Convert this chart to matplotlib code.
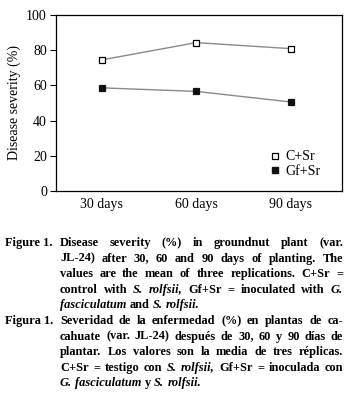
import matplotlib
matplotlib.use("Agg")
import matplotlib.pyplot as plt
from matplotlib.lines import Line2D

plt.rcParams['font.family'] = ['Liberation Serif', 'DejaVu Serif']

days = ["30 days", "60 days", "90 days"]
c_sr = [74.5, 84.3, 80.9]
gf_sr = [58.6, 56.6, 50.6]
series_names = ["C+Sr", "Gf+Sr"]
y_ticks = [0, 20, 40, 60, 80, 100]

# caption lines: list of (word, italic)
def w(s, it=False):
    return [(t, it) for t in s.split()]

cap_en = [
    w("Disease severity (%) in groundnut plant (var."),
    w("JL-24) after 30, 60 and 90 days of planting. The"),
    w("values are the mean of three replications. C+Sr ="),
    w("control with") + w("S. rolfsii,", True) + w("Gf+Sr = inoculated with") + w("G.", True),
    w("fasciculatum", True) + w("and") + w("S. rolfsii.", True),
]
cap_es = [
    w("Severidad de la enfermedad (%) en plantas de ca-"),
    w("cahuate (var. JL-24) después de 30, 60 y 90 días de"),
    w("plantar. Los valores son la media de tres réplicas."),
    w("C+Sr = testigo con") + w("S. rolfsii,", True) + w("Gf+Sr = inoculada con"),
    w("G. fasciculatum", True) + w("y") + w("S. rolfsii.", True),
]

W, H = 348, 405
fig = plt.figure(figsize=(W / 100, H / 100), dpi=100)
ax = fig.add_axes([56 / W, 1 - 191 / H, (342 - 56) / W, (191 - 15) / H])

x = list(range(len(days)))
ax.plot(x, c_sr, color="#8a8a8a", lw=1.0, marker="s", ms=5, mfc="white",
        mec="black", mew=0.9, zorder=3)
ax.plot(x, gf_sr, color="#8a8a8a", lw=1.0, marker="s", ms=5, mfc="#111111",
        mec="#111111", mew=0.9, zorder=3)

ax.set_xlim(-0.485, 2.545)
ax.set_ylim(0, 100)
ax.set_yticks(y_ticks)
ax.set_xticks(x)
ax.set_xticklabels(days)
ax.tick_params(axis="y", length=4.5, width=0.8, labelsize=10, pad=2, colors="black")
ax.tick_params(axis="x", length=0, labelsize=10, pad=5)
for sp in ax.spines.values():
    sp.set_linewidth(0.9)
ax.set_ylabel("Disease severity (%)", fontsize=10, labelpad=4)

handles = [
    Line2D([], [], ls="none", marker="s", ms=5, mfc="white", mec="black", mew=0.9),
    Line2D([], [], ls="none", marker="s", ms=5, mfc="#111111", mec="#111111"),
]
ax.legend(handles, series_names, loc="lower right", bbox_to_anchor=(0.96, 0.02),
          frameon=False, fontsize=10, handlelength=0.7, handletextpad=0.4,
          labelspacing=0.1, borderpad=0.2)

# caption, justified by hand
fig.canvas.draw()
rend = fig.canvas.get_renderer()
fs = 8.9


def make(s, it, xpx, ypx):
    return fig.text(xpx / W, 1 - ypx / H, s, fontsize=fs, fontweight="bold",
                    style="italic" if it else "normal", va="center", ha="left")


def width(t):
    return t.get_window_extent(rend).width


def space_width():
    a = make("a a", False, 50, 50)
    b = make("a", False, 50, 50)
    sp = width(a) - 2 * width(b)
    a.remove()
    b.remove()
    return sp


def draw_para(label, lines, y0, step, left=5, body=60, right=343):
    make(label, False, left, y0)
    sp = space_width()
    for i, line in enumerate(lines):
        y = y0 + i * step
        texts = [make(s, it, body, y) for s, it in line]
        ws = [width(t) for t in texts]
        last = i == len(lines) - 1
        if last or len(texts) < 2:
            gap = sp
        else:
            gap = (right - body - sum(ws)) / (len(texts) - 1)
        xp = body
        for t, wd in zip(texts, ws):
            t.set_x(xp / W)
            xp += wd + gap


step = 15.6
draw_para("Figure 1.", cap_en, 243, step)
draw_para("Figura 1.", cap_es, 243 + 5 * step, step)

fig.savefig("out.png", dpi=100)
